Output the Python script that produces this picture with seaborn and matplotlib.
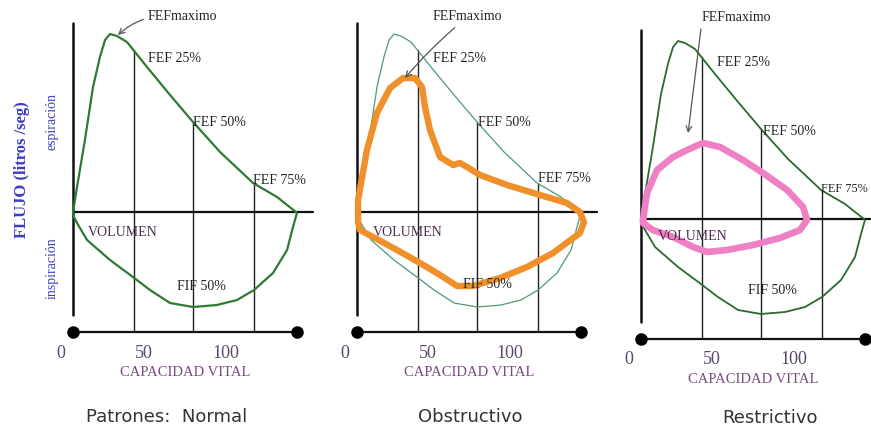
import matplotlib
matplotlib.use("Agg")
import matplotlib.pyplot as plt
import seaborn as sns
import pandas as pd

# Curva flujo-volumen normal de referencia (volumen, flujo l/seg)
normal_vol = [7.3, 9.7, 14.5, 19.4, 23.6, 26.7, 29.7, 33.9, 40.0, 52.1, 66.1, 80.0, 96.4, 116.4, 130.9, 142.4,
              143.0, 140.6, 137.0, 128.5, 117.0, 106.7, 94.5, 80.0, 66.1, 53.9, 43.6, 29.7, 15.8, 9.7, 7.3, 7.3]
normal_flow = [0.0, 1.25, 3.6, 6.25, 7.75, 8.6, 8.9, 8.8, 8.5, 7.25, 5.85, 4.5, 3.0, 1.45, 0.75, 0.0,
               -0.05, -0.75, -1.9, -3.05, -3.9, -4.4, -4.65, -4.75, -4.55, -3.9, -3.25, -2.4, -1.4, -0.55, -0.15, 0.0]

# Patron obstructivo
obst_vol = [7.9, 7.9, 13.3, 19.4, 27.3, 35.2, 42.4, 46.7, 48.5, 51.5, 57.6, 65.5, 69.7, 73.9, 81.8, 98.2,
            118.2, 134.5, 142.4, 144.8, 142.4, 126.1, 110.3, 93.9, 77.6, 67.9, 57.6, 45.5, 31.5, 17.0, 9.1, 7.9, 7.9]
obst_flow = [-0.15, 0.6, 3.1, 4.95, 6.2, 6.7, 6.7, 6.25, 5.25, 4.1, 2.75, 2.35, 2.45, 2.25, 1.85, 1.35,
             0.85, 0.45, 0.0, -0.5, -1.05, -2.05, -2.75, -3.3, -3.7, -3.7, -3.15, -2.55, -1.9, -1.25, -0.9, -0.5, -0.15]

# Patron restrictivo
restr_vol = [8.5, 10.9, 17.0, 26.7, 35.2, 44.8, 55.2, 69.1, 81.2, 95.8, 105.5, 107.9, 103.6, 91.5, 75.2,
             59.4, 47.3, 38.8, 26.7, 14.5, 8.5, 8.5]
restr_flow = [-0.05, 1.3, 2.45, 3.1, 3.45, 3.8, 3.6, 2.95, 2.3, 1.45, 0.6, -0.05, -0.55, -0.95, -1.3,
              -1.55, -1.65, -1.4, -0.9, -0.55, -0.2, -0.05]

# Lineas FEF 25/50/75 (posicion en volumen y altura sobre la curva normal)
fef_vol = [44, 80, 117]
fef_top = [8.1, 4.5, 1.4]
fef_names = ["FEF 25%", "FEF 50%", "FEF 75%"]

tick_vals = [0, 50, 100]
tick_labels = ["0", "50", "100"]

panel_titles = ["Patrones:  Normal", "Obstructivo", "Restrictivo"]

sns.set_style("white")
plt.rcParams["font.family"] = "serif"
plt.rcParams["font.serif"] = ["Liberation Serif", "DejaVu Serif"]

fig = plt.figure(figsize=(8.71, 4.28), dpi=100)

# layout in pixels: x scale 1.65 px/unit, y scale 20 px/unit
x_offsets = [0, 284, 568]
zero_px = [212, 212, 219]
green = ["#2f7a33", "#4f9a70", "#2a6a2c"]
green_lw = [1.6, 0.9, 1.3]

axes = []
for i in range(3):
    left = 61 + x_offsets[i] - 10 * 1.65
    bottom = 428 - (zero_px[i] + 120)
    ax = fig.add_axes([left / 871, bottom / 428, 280.5 / 871, 330 / 428])
    ax.set_xlim(-10, 160)
    ax.set_ylim(-6, 10.5)
    for s in ax.spines.values():
        s.set_visible(False)
    ax.set_yticks([])
    ax.set_xticks(tick_vals)
    ax.set_xticklabels(tick_labels)
    ax.tick_params(axis="x", length=0, pad=9, labelsize=13, labelcolor="#5a4868")
    ax.patch.set_alpha(0)

    # ejes del dibujo
    ax.plot([7.3, 7.3], [-5.15, 9.45], color="#111111", lw=1.8, clip_on=False)
    ax.plot([7.3, 153], [0, 0], color="#111111", lw=1.6, clip_on=False)
    ax.plot([7.3, 143], [-6, -6], color="#111111", lw=1.6, marker="o", markersize=8,
            markerfacecolor="black", markeredgecolor="black", clip_on=False, zorder=5)
    for xv, top in zip(fef_vol, fef_top):
        ax.plot([xv, xv], [-6, top], color="#222222", lw=1.0)

    df_norm = pd.DataFrame({"vol": normal_vol, "flow": normal_flow})
    sns.lineplot(data=df_norm, x="vol", y="flow", sort=False, estimator=None,
                 color=green[i], lw=green_lw[i], ax=ax)
    axes.append(ax)

ax1, ax2, ax3 = axes

df_obst = pd.DataFrame({"vol": obst_vol, "flow": obst_flow})
sns.lineplot(data=df_obst, x="vol", y="flow", sort=False, estimator=None,
             color="#f0902a", lw=4.6, ax=ax2, solid_joinstyle="round", solid_capstyle="round")
df_restr = pd.DataFrame({"vol": restr_vol, "flow": restr_flow})
sns.lineplot(data=df_restr, x="vol", y="flow", sort=False, estimator=None,
             color="#f080c4", lw=4.8, ax=ax3, solid_joinstyle="round", solid_capstyle="round")
for ax in axes:
    ax.set_xlabel("CAPACIDAD VITAL", fontsize=10.5, color="#7a4a82", labelpad=3)
    ax.set_ylabel("")

lab = dict(fontsize=10, color="#222222", ha="left", va="center", clip_on=False)
purple = dict(fontsize=10, color="#4b2d4b", ha="left", va="center")

# etiquetas panel normal
ax1.annotate("FEFmaximo", xy=(34.5, 8.85), xytext=(52.7, 9.75), fontsize=10, color="#222222",
             ha="left", va="center", annotation_clip=False,
             arrowprops=dict(arrowstyle="->", connectionstyle="arc3,rad=0.25", color="#555555",
                             lw=0.9, shrinkA=1, shrinkB=0))
ax1.text(52.7, 7.7, fef_names[0], **lab)
ax1.text(80.0, 4.45, fef_names[1], **lab)
ax1.text(116.4, 1.6, fef_names[2], **lab)
ax1.text(16.4, -1.0, "VOLUMEN", **purple)
ax1.text(70.3, -3.7, "FIF 50%", **lab)

# etiquetas panel obstructivo
ax2.annotate("FEFmaximo", xy=(36.4, 6.7), xytext=(53.3, 9.75), fontsize=10, color="#222222",
             ha="left", va="center", annotation_clip=False,
             arrowprops=dict(arrowstyle="->", connectionstyle="arc3,rad=0.05", color="#555555",
                             lw=0.9, shrinkA=1, shrinkB=0))
ax2.text(53.3, 7.7, fef_names[0], **lab)
ax2.text(80.6, 4.45, fef_names[1], **lab)
ax2.text(117.0, 1.7, fef_names[2], **lab)
ax2.text(17.0, -1.0, "VOLUMEN", **purple)
ax2.text(71.5, -3.65, "FIF 50%", **lab)

# etiquetas panel restrictivo
ax3.text(44.2, 10.05, "FEFmaximo", **lab)
ax3.annotate("", xy=(35.8, 4.3), xytext=(43.6, 9.5), annotation_clip=False,
             arrowprops=dict(arrowstyle="->", color="#555555", lw=0.9, shrinkA=0, shrinkB=0))
ax3.text(53.3, 7.8, fef_names[0], **lab)
ax3.text(81.2, 4.35, fef_names[1], **lab)
ax3.text(116.6, 1.5, fef_names[2], fontsize=8.8, color="#222222", ha="left", va="center", clip_on=False)
ax3.text(17.6, -0.9, "VOLUMEN", **purple)
ax3.text(72.1, -3.55, "FIF 50%", **lab)

# titulo vertical del eje y
ax1.text(-23.6, 2.1, "FLUJO (litros /seg)", rotation=90, ha="center", va="center",
         fontsize=12, fontweight="bold", color="#3a3ac8", clip_on=False)
ax1.text(-5.5, 4.5, "espiración", rotation=90, ha="center", va="center",
         fontsize=10, color="#4040c0", clip_on=False)
ax1.text(-5.5, -2.8, "inspiración", rotation=90, ha="center", va="center",
         fontsize=10, color="#4040c0", clip_on=False)

# titulos inferiores
title_pos = [(64.0, -10.25), (75.8, -10.25), (85.5, -9.95)]
for ax, t, (tx, ty) in zip(axes, panel_titles, title_pos):
    ax.text(tx, ty, t, ha="center", va="center", fontsize=13, color="#333333",
            family="DejaVu Sans", clip_on=False)

fig.savefig("out.png", dpi=100)
